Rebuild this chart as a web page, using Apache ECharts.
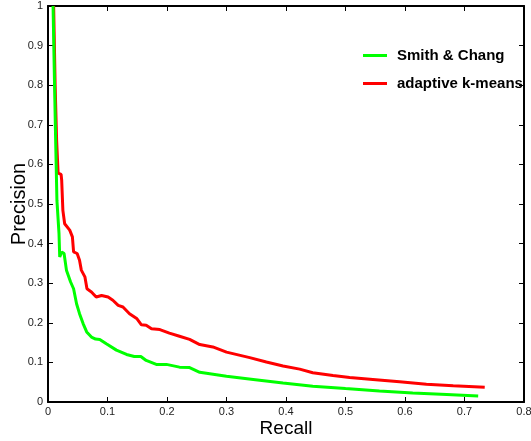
<!DOCTYPE html>
<html>
<head>
<meta charset="utf-8">
<script src="https://cdn.jsdelivr.net/npm/echarts@6/dist/echarts.min.js"></script>
<style>html,body{margin:0;padding:0;background:#fff}#c{width:531px;height:441px}</style>
</head>
<body>
<div id="c"></div>
<script>
var seriesNames = ['Smith & Chang', 'adaptive k-means'];
var xTicks = [0, 0.1, 0.2, 0.3, 0.4, 0.5, 0.6, 0.7, 0.8];
var yTicks = [0, 0.1, 0.2, 0.3, 0.4, 0.5, 0.6, 0.7, 0.8, 0.9, 1];

var greenRecall = [0.0085, 0.011, 0.013, 0.015, 0.0185, 0.0197, 0.023, 0.027, 0.031, 0.038, 0.043, 0.048, 0.053, 0.059, 0.065, 0.073, 0.080, 0.087, 0.098, 0.115, 0.132, 0.145, 0.156, 0.165, 0.182, 0.199, 0.221, 0.238, 0.255, 0.30, 0.345, 0.395, 0.445, 0.50, 0.557, 0.613, 0.67, 0.723];
var greenPrecision = [1.0, 0.80, 0.65, 0.509, 0.425, 0.366, 0.379, 0.375, 0.333, 0.303, 0.286, 0.248, 0.223, 0.198, 0.177, 0.164, 0.159, 0.158, 0.147, 0.131, 0.120, 0.115, 0.115, 0.105, 0.095, 0.095, 0.088, 0.087, 0.075, 0.065, 0.057, 0.048, 0.040, 0.034, 0.028, 0.023, 0.019, 0.015];

var redRecall = [0.0095, 0.012, 0.0145, 0.017, 0.022, 0.023, 0.025, 0.028, 0.0365, 0.041, 0.043, 0.049, 0.053, 0.056, 0.062, 0.0655, 0.073, 0.081, 0.090, 0.101, 0.109, 0.118, 0.126, 0.137, 0.149, 0.157, 0.165, 0.174, 0.188, 0.204, 0.221, 0.238, 0.255, 0.277, 0.30, 0.339, 0.367, 0.395, 0.423, 0.445, 0.479, 0.507, 0.546, 0.591, 0.636, 0.681, 0.734];
var redPrecision = [1.0, 0.80, 0.66, 0.578, 0.575, 0.56, 0.484, 0.45, 0.434, 0.417, 0.379, 0.375, 0.358, 0.333, 0.316, 0.286, 0.278, 0.265, 0.269, 0.265, 0.257, 0.244, 0.240, 0.223, 0.211, 0.195, 0.194, 0.185, 0.183, 0.174, 0.166, 0.158, 0.145, 0.139, 0.126, 0.112, 0.101, 0.091, 0.083, 0.074, 0.067, 0.062, 0.057, 0.051, 0.045, 0.041, 0.037];

function pairs(xs, ys) { return xs.map(function (x, i) { return [x, ys[i]]; }); }

var font = 'Liberation Sans, Arial, Helvetica, sans-serif';
var chart = echarts.init(document.getElementById('c'), null, {renderer: 'canvas'});

function xAxisDef(pos, showLabel) {
  return {
    type: 'value', position: pos, min: xTicks[0], max: xTicks[xTicks.length - 1],
    interval: xTicks[1] - xTicks[0],
    axisLine: {show: true, onZero: false, lineStyle: {color: '#000', width: 2}},
    axisTick: {show: true, inside: true, length: 5, lineStyle: {color: '#000', width: 1}},
    axisLabel: {show: showLabel, margin: 4, fontSize: 11, color: '#222', fontFamily: font},
    splitLine: {show: false},
    name: showLabel ? 'Recall' : '', nameLocation: 'middle', nameGap: 17, nameMoveOverlap: false,
    nameTextStyle: {fontSize: 19, color: '#000', fontFamily: font}
  };
}
function yAxisDef(pos, showLabel) {
  return {
    type: 'value', position: pos, min: yTicks[0], max: yTicks[yTicks.length - 1],
    interval: yTicks[1] - yTicks[0],
    axisLine: {show: true, onZero: false, lineStyle: {color: '#000', width: 2}},
    axisTick: {show: true, inside: true, length: 5, lineStyle: {color: '#000', width: 1}},
    axisLabel: {show: showLabel, margin: 5, fontSize: 11, color: '#222', fontFamily: font},
    splitLine: {show: false},
    name: showLabel ? 'Precision' : '', nameLocation: 'middle', nameGap: 19, nameMoveOverlap: false,
    nameTextStyle: {fontSize: 20, color: '#000', fontFamily: font}
  };
}

chart.setOption({
  animation: false,
  backgroundColor: '#fff',
  grid: {left: 48, right: 7, top: 6, bottom: 39, containLabel: false, outerBoundsMode: 'none'},
  xAxis: [xAxisDef('bottom', true), xAxisDef('top', false)],
  yAxis: [yAxisDef('left', true), yAxisDef('right', false)],
  legend: {
    orient: 'vertical', left: 363, top: 48, padding: 0,
    itemWidth: 24, itemHeight: 3, itemGap: 13, icon: 'rect',
    textStyle: {fontSize: 15, fontWeight: 'bold', color: '#000', fontFamily: font, padding: [0, 0, 0, 5]},
    data: seriesNames
  },
  series: [
    {name: seriesNames[0], type: 'line', data: pairs(greenRecall, greenPrecision), showSymbol: false, symbol: 'none',
     lineStyle: {color: '#00ff00', width: 3}, itemStyle: {color: '#00ff00'}, clip: true, z: 3},
    {name: seriesNames[1], type: 'line', data: pairs(redRecall, redPrecision), showSymbol: false, symbol: 'none',
     lineStyle: {color: '#ff0000', width: 3}, itemStyle: {color: '#ff0000'}, clip: true, z: 2}
  ]
});
</script>
</body>
</html>
